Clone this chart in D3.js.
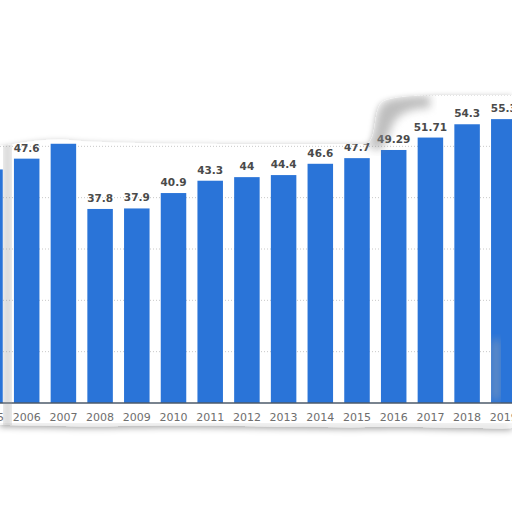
<!DOCTYPE html>
<html>
<head>
<meta charset="utf-8">
<script src="https://cdn.jsdelivr.net/npm/d3@7"></script>
<style>
  body { margin: 0; background: #fff; }
  svg { display: block; }
</style>
</head>
<body>
<svg id="chart" width="512" height="512"></svg>
<script>
// years shown on the x axis (2005 is only partly visible at the left edge)
const years = ['2005', '2006', '2007', '2008', '2009', '2010', '2011', '2012',
               '2013', '2014', '2015', '2016', '2017', '2018', '2019'];
// bar values (2005 and 2007 have no visible label, estimated)
const values = [45.5, 47.6, 50.5, 37.8, 37.9, 40.9, 43.3, 44, 44.4, 46.6, 47.7, 49.29, 51.71, 54.3, 55.3];
const labels = ['', '47.6', '50.5', '37.8', '37.9', '40.9', '43.3', '44', '44.4', '46.6', '47.7', '49.29', '51.71', '54.3', '55.3'];
const gridTicks = [10, 20, 30, 40, 50, 60];

const data = years.map((y, i) => ({ year: y, value: values[i], label: labels[i] }));

const svg = d3.select('#chart');
const step = 36.7;
const x0 = -28.35;

const x = d3.scaleBand()
  .domain(years)
  .range([x0, x0 + years.length * step])
  .paddingInner(0.305)
  .paddingOuter(0.1525);

const y = d3.scaleLinear()
  .domain([0, 60])
  .range([403, 95]);

// torn paper outline, the chart is only visible inside it
const tear = 'M0,146 C20,144 40,138 70,140 C110,144 200,144 300,144 L366,144 ' +
  'C378,140 372,112 382,102 C392,96 420,95 450,95 L512,95 L512,428 ' +
  'C470,429 420,426 380,427 C300,428 200,424 120,426 C70,427 30,425 0,425 Z';

const defs = svg.append('defs');
defs.append('clipPath').attr('id', 'tear-clip')
  .append('path').attr('d', tear);

const shadow = defs.append('filter').attr('id', 'soft-shadow')
  .attr('x', '-10%').attr('y', '-10%').attr('width', '120%').attr('height', '130%');
shadow.append('feDropShadow')
  .attr('dx', 0).attr('dy', 2).attr('stdDeviation', 3)
  .attr('flood-color', '#000').attr('flood-opacity', 0.35);

const blur = defs.append('filter').attr('id', 'blur');
blur.append('feGaussianBlur').attr('stdDeviation', 4);

// paper with drop shadow
svg.append('path')
  .attr('d', tear)
  .attr('fill', '#fff')
  .attr('filter', 'url(#soft-shadow)');

const g = svg.append('g').attr('clip-path', 'url(#tear-clip)');

// dotted gridlines
g.append('g')
  .selectAll('line')
  .data(gridTicks)
  .join('line')
    .attr('x1', 0)
    .attr('x2', 512)
    .attr('y1', d => y(d))
    .attr('y2', d => y(d))
    .attr('stroke', '#c8c8c8')
    .attr('stroke-width', 1)
    .attr('stroke-dasharray', '1,2');

// bars
g.append('g')
  .selectAll('rect')
  .data(data)
  .join('rect')
    .attr('x', d => x(d.year))
    .attr('y', d => y(d.value))
    .attr('width', x.bandwidth())
    .attr('height', d => y(0) - y(d.value))
    .attr('fill', '#2a74d8');

// baseline
g.append('line')
  .attr('x1', 0).attr('x2', 512)
  .attr('y1', y(0)).attr('y2', y(0))
  .attr('stroke', '#4d5a6a')
  .attr('stroke-width', 1.5);

// value labels over the bars
g.append('g')
  .selectAll('text')
  .data(data)
  .join('text')
    .attr('x', d => x(d.year) + x.bandwidth() / 2)
    .attr('y', d => y(d.value) - 7)
    .attr('text-anchor', 'middle')
    .attr('font-family', 'DejaVu Sans, sans-serif')
    .attr('font-size', 10.5)
    .attr('font-weight', 'bold')
    .attr('fill', '#4a4a4a')
    .text(d => d.label);

// year labels
const xAxis = d3.axisBottom(x).tickSize(0).tickPadding(10);
g.append('g')
  .attr('transform', `translate(0,${y(0)})`)
  .call(xAxis)
  .call(a => a.select('.domain').remove())
  .call(a => a.selectAll('text')
    .attr('font-family', 'DejaVu Sans, sans-serif')
    .attr('font-size', 11)
    .attr('fill', '#6e6e6e'));

// fold shadows of the torn paper
g.append('rect')
  .attr('x', 4).attr('y', 140).attr('width', 7).attr('height', 290)
  .attr('fill', '#9a9a9a').attr('opacity', 0.55)
  .attr('filter', 'url(#blur)');
g.append('path')
  .attr('d', 'M366,146 C378,138 372,112 384,102 C392,97 410,96 430,96 L430,108 C410,108 398,114 393,124 C388,134 388,142 380,150 Z')
  .attr('fill', '#8a8a8a').attr('opacity', 0.55)
  .attr('filter', 'url(#blur)');
g.append('rect')
  .attr('x', 492).attr('y', 340).attr('width', 8).attr('height', 60)
  .attr('fill', '#aaa').attr('opacity', 0.5)
  .attr('filter', 'url(#blur)');
g.append('rect')
  .attr('x', 0).attr('y', 424).attr('width', 512).attr('height', 6)
  .attr('fill', '#aaa').attr('opacity', 0.45)
  .attr('filter', 'url(#blur)');
</script>
</body>
</html>
